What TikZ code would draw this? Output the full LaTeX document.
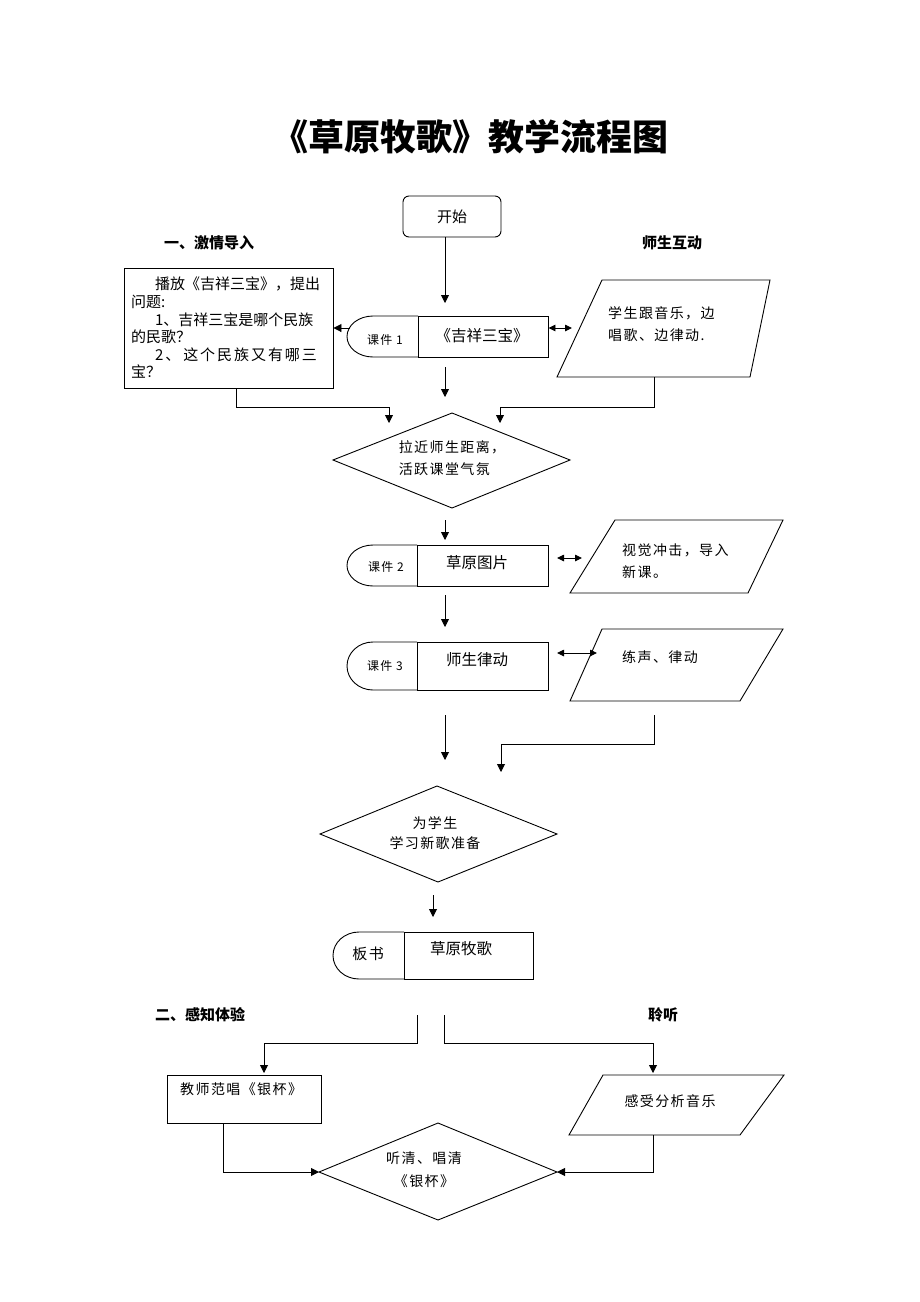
\documentclass[tikz,border=0pt]{standalone}
\usepackage{fontspec}
\setmainfont{Noto Sans CJK SC}
\newfontfamily\bodyf{Noto Sans CJK SC}[LetterSpace=10]
\newfontfamily\widef{Noto Sans CJK SC}[LetterSpace=13]
\usetikzlibrary{arrows.meta}
% #1 left x, #2 divider x, #3 top y, #4 bottom y
\newcommand\Dshape[4]{%
  \draw[line] (#2,#3) -- (#1+26,#3)
    .. controls (#1+11.6,#3) and (#1,{(#3+#4)/2-0.552*(#4-#3)/2}) .. (#1,{(#3+#4)/2})
    .. controls (#1,{(#3+#4)/2+0.552*(#4-#3)/2}) and (#1+11.6,#4) .. (#1+26,#4) -- (#2,#4);}
\begin{document}
\begin{tikzpicture}[x=1pt,y=-1pt,
  line/.style={line width=0.9pt},
  arr/.style={line width=0.9pt,-{Triangle[length=8pt,width=8pt]}},
  dbl/.style={line width=0.9pt,{Triangle[length=7pt,width=6.5pt]}-{Triangle[length=7pt,width=6.5pt]}},
  txt/.style={font=\bodyf\fontsize{14}{22}\selectfont, inner sep=0pt},
  small/.style={font=\bodyf\fontsize{12}{12}\selectfont, inner sep=0pt},
  head/.style={font=\fontsize{15}{15}\selectfont\bfseries, inner sep=0pt},
  boxlab/.style={font=\fontsize{15.5}{15.5}\selectfont, inner sep=0pt}]
\useasboundingbox[fill=white] (0,0) rectangle (920,1302);

% title
\node[font=\fontsize{36}{36}\selectfont\bfseries, inner sep=0pt] (title) at (470,137) {《草原牧歌》教学流程图};

% start
\node[draw, line, rounded corners=6pt, minimum width=98pt, minimum height=41pt, font=\fontsize{15}{15}\selectfont] (start) at (452,216.5) {开始};

% section labels
\node[head] (lab1) at (209,243) {一、激情导入};
\node[head] (lab2) at (672,243) {师生互动};
\node[head] (lab3) at (200,1015) {二、感知体验};
\node[head] (lab4) at (663,1015) {聆听};

% left question box
\node[draw, line, minimum width=209pt, minimum height=120pt, text width=195pt, align=left, inner sep=0pt,
      font=\fontsize{15}{17.6}\selectfont] (box1) at (228.5,328)
 {\hspace{1.6em}播放《吉祥三宝》，提出\\
  问题:\\
  \hspace{1.6em}1、吉祥三宝是哪个民族\\
  的民歌？\\
  \hspace{1.6em}{\widef 2、\hspace{0.2em}这个民族又有哪三}\\
  宝？};

% courseware 1
\node[draw, line, minimum width=130pt, minimum height=41pt, inner sep=0pt] (kj1) at (483,336.5) {};
\Dshape{347}{418}{316}{357}
\node[small] (kj1l) at (385,340) {课件 1};
\node[boxlab] (kj1t) at (482,336) {《吉祥三宝》};

% parallelogram 1
\coordinate (p1tl) at (602,280); \coordinate (p1tr) at (770,280);
\coordinate (p1br) at (750,377); \coordinate (p1bl) at (557,377);
\draw[line] (p1tl) -- (p1tr) -- (p1br) -- (p1bl) -- cycle;
\node[txt, align=left, anchor=west] (p1) at (608,324) {学生跟音乐，边\\唱歌、边律动.};

% diamond 1
\coordinate (d1t) at (452,413); \coordinate (d1r) at (570,460);
\coordinate (d1b) at (452,508); \coordinate (d1l) at (333,460);
\draw[line] (d1t) -- (d1r) -- (d1b) -- (d1l) -- cycle;
\node[txt, align=left] (d1) at (452,458) {拉近师生距离，\\活跃课堂气氛};

% courseware 2
\node[draw, line, minimum width=131pt, minimum height=41pt, inner sep=0pt] (kj2) at (482.5,565.5) {};
\Dshape{347}{417}{545}{586}
\node[small] (kj2l) at (386,567) {课件 2};
\node[boxlab] (kj2t) at (477,563) {草原图片};

% parallelogram 2
\coordinate (p2tl) at (615,520); \coordinate (p2tr) at (783,520);
\coordinate (p2br) at (748,593); \coordinate (p2bl) at (570,593);
\draw[line] (p2tl) -- (p2tr) -- (p2br) -- (p2bl) -- cycle;
\node[txt, align=left, anchor=west] (p2) at (622,561) {视觉冲击，导入\\新课。};

% courseware 3
\node[draw, line, minimum width=131pt, minimum height=48pt, inner sep=0pt] (kj3) at (482.5,666) {};
\Dshape{347}{417}{642}{690}
\node[small] (kj3l) at (385,666) {课件 3};
\node[boxlab] (kj3t) at (477,660) {师生律动};

% parallelogram 3
\coordinate (p3tl) at (602,629); \coordinate (p3tr) at (783,629);
\coordinate (p3br) at (740,701); \coordinate (p3bl) at (570,701);
\draw[line] (p3tl) -- (p3tr) -- (p3br) -- (p3bl) -- cycle;
\node[txt, anchor=west] (p3) at (622,657) {练声、律动};

% diamond 2
\coordinate (d2t) at (437,786); \coordinate (d2r) at (557,834);
\coordinate (d2b) at (438,882); \coordinate (d2l) at (320,834);
\draw[line] (d2t) -- (d2r) -- (d2b) -- (d2l) -- cycle;
\node[txt, font=\bodyf\fontsize{14}{20}\selectfont, align=center] (d2) at (435,833) {为学生\\学习新歌准备};

% blackboard
\node[draw, line, minimum width=129pt, minimum height=47pt, inner sep=0pt] (bs) at (468.5,955.5) {};
\Dshape{333}{404}{932}{979}
\node[inner sep=0pt, font=\bodyf\fontsize{15}{15}\selectfont] (bsl) at (368,954) {板书};
\node[boxlab] (bst) at (461,949) {草原牧歌};

% teacher box
\node[draw, line, minimum width=154pt, minimum height=48pt, inner sep=0pt] (box4) at (244,1099) {};
\node[txt, anchor=west] (box4t) at (180,1089) {教师范唱《银杯》};

% parallelogram 4
\coordinate (p4tl) at (603,1075); \coordinate (p4tr) at (784,1075);
\coordinate (p4br) at (740,1135); \coordinate (p4bl) at (569,1135);
\draw[line] (p4tl) -- (p4tr) -- (p4br) -- (p4bl) -- cycle;
\node[txt] (p4) at (670,1101) {感受分析音乐};

% diamond 3
\coordinate (d3t) at (438,1123); \coordinate (d3r) at (557,1172);
\coordinate (d3b) at (438,1220); \coordinate (d3l) at (319,1172);
\draw[line] (d3t) -- (d3r) -- (d3b) -- (d3l) -- cycle;
\node[txt, font=\bodyf\fontsize{14}{23}\selectfont, align=center] (d3) at (424,1170) {听清、唱清\\《银杯》};

% ---------- connectors ----------
\coordinate (c1) at (445,303);
\draw[arr] (start.south -| c1) -- (c1);
\coordinate (c2a) at (445,367); \coordinate (c2b) at (445,397);
\draw[arr] (c2a) -- (c2b);
\coordinate (c3) at (350,328);
\draw[arr] (c3) -- (box1.east |- c3);
\coordinate (c7) at (572,328);
\draw[dbl] (kj1.east |- c3) -- (c7);

\coordinate (c4a) at (236,388); \coordinate (c4b) at (389,407); \coordinate (c4c) at (389,423);
\draw[arr] (c4a) |- (c4b) -- (c4c);
\coordinate (c5a) at (654,377); \coordinate (c5b) at (500,407); \coordinate (c5c) at (500,423);
\draw[arr] (c5a) |- (c5b) -- (c5c);

\coordinate (c6a) at (445,520); \coordinate (c6b) at (445,540);
\draw[arr] (c6a) -- (c6b);
\coordinate (c8a) at (557,558); \coordinate (c8b) at (582,558);
\draw[dbl] (c8a) -- (c8b);
\coordinate (c9a) at (445,595); \coordinate (c9b) at (445,627);
\draw[arr] (c9a) -- (c9b);
\coordinate (c10a) at (557,653); \coordinate (c10b) at (597,653);
\draw[dbl] (c10a) -- (c10b);
\coordinate (c11a) at (445,715); \coordinate (c11b) at (445,760);
\draw[arr] (c11a) -- (c11b);
\coordinate (c12a) at (654,715); \coordinate (c12b) at (501,744); \coordinate (c12c) at (501,772);
\draw[arr] (c12a) |- (c12b) -- (c12c);
\coordinate (c13a) at (433,895); \coordinate (c13b) at (433,917);
\draw[arr] (c13a) -- (c13b);

\coordinate (c14a) at (417,1015); \coordinate (c14b) at (264,1043); \coordinate (c14c) at (264,1073);
\draw[arr] (c14a) |- (c14b) -- (c14c);
\coordinate (c15a) at (444,1015); \coordinate (c15b) at (653,1043); \coordinate (c15c) at (653,1073);
\draw[arr] (c15a) |- (c15b) -- (c15c);
\coordinate (c16a) at (223,1123);
\draw[arr] (c16a) |- (d3l);
\coordinate (c17a) at (653,1135);
\draw[arr] (c17a) |- (d3r);
\end{tikzpicture}
\end{document}
